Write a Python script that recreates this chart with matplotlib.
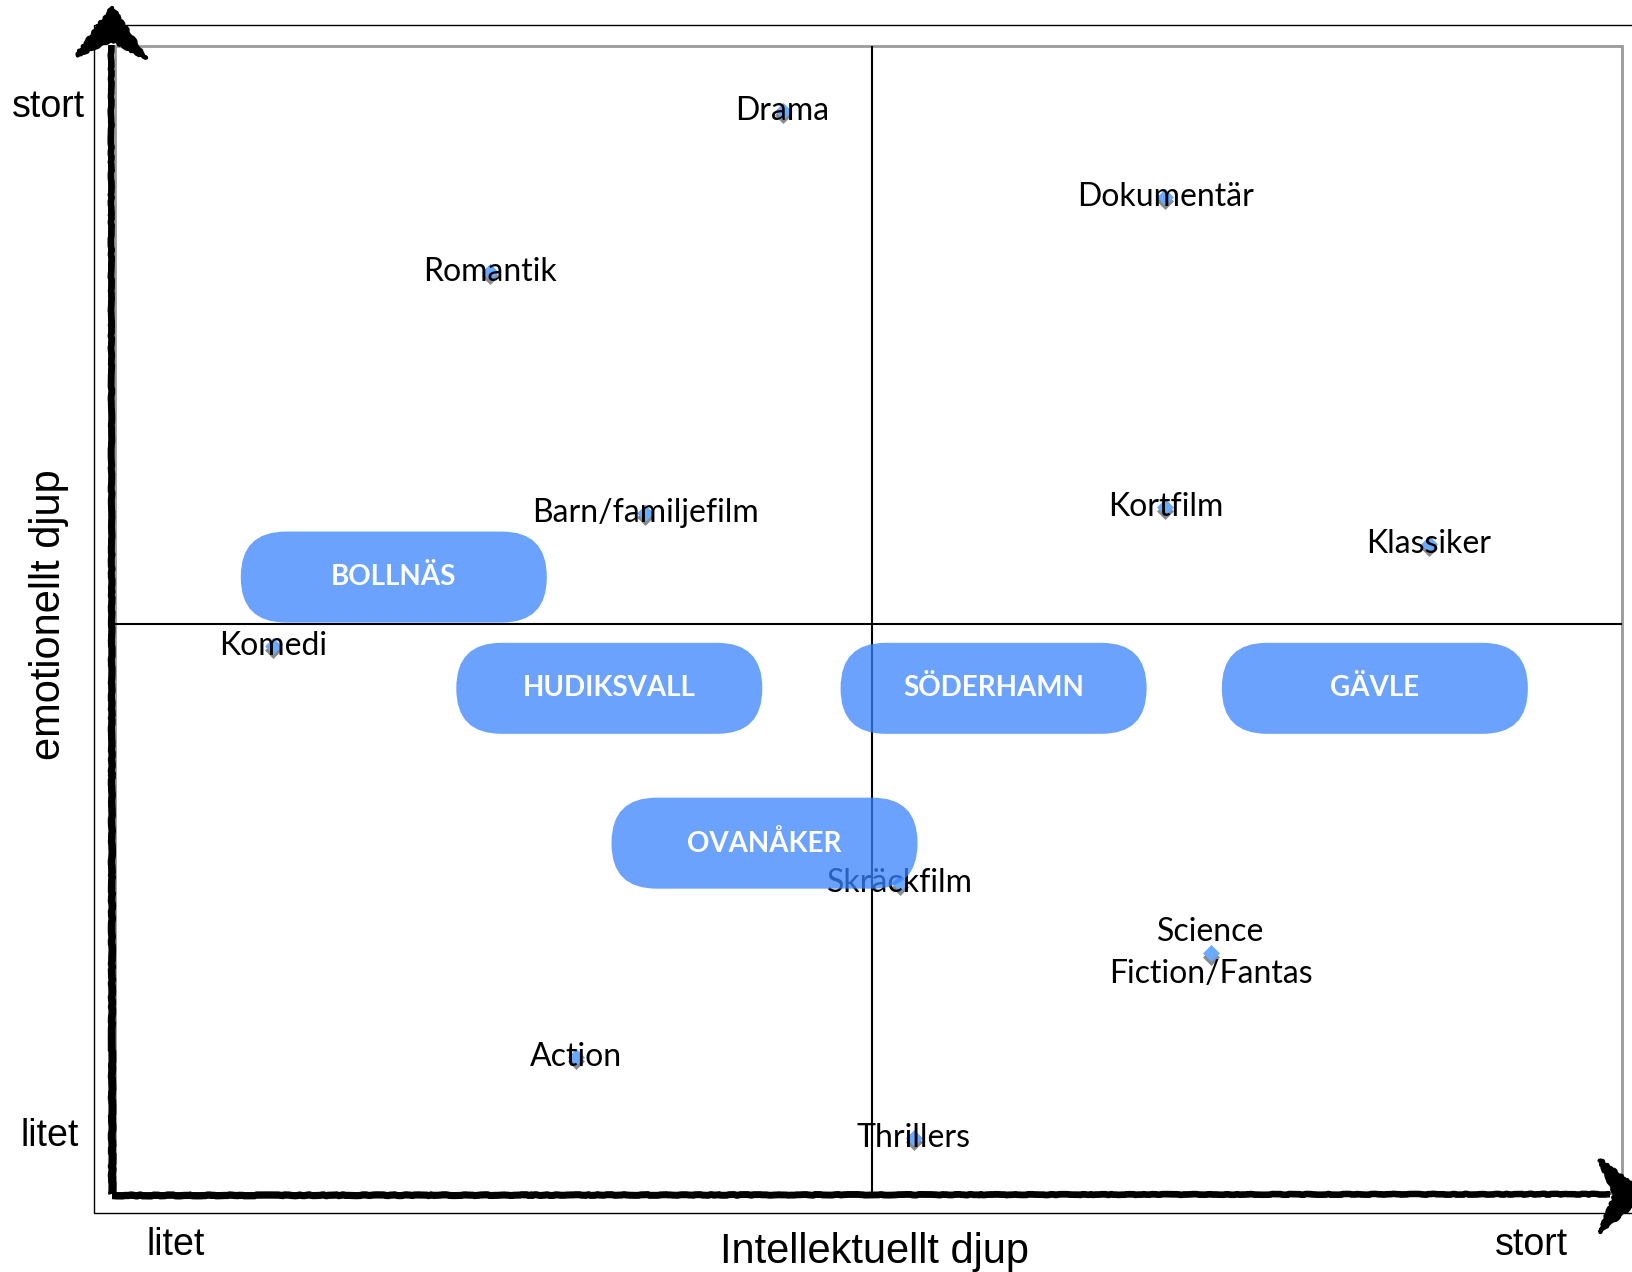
import matplotlib
matplotlib.use("Agg")
import matplotlib.pyplot as plt
import matplotlib.transforms as mtransforms
from matplotlib.patches import FancyBboxPatch, Polygon, Rectangle

# genres placed by intellectual depth (x) and emotional depth (y), 0..10
genres = ["Drama", "Dokumentär", "Romantik", "Barn/familjefilm", "Kortfilm",
          "Klassiker", "Komedi", "Skräckfilm", "Science\nFiction/Fantas",
          "Action", "Thrillers"]
genre_x = [4.43, 6.97, 2.49, 3.52, 6.97, 8.72, 1.05, 5.21, 7.27, 3.06, 5.30]
genre_y = [9.43, 8.68, 8.03, 5.93, 5.98, 5.66, 4.77, 2.70, 2.09, 1.19, 0.48]

# municipalities
regions = ["BOLLNÄS", "HUDIKSVALL", "SÖDERHAMN", "GÄVLE", "OVANÅKER"]
region_x = [1.85, 3.28, 5.83, 8.36, 4.31]
region_y = [5.37, 4.40, 4.40, 4.40, 3.05]

W, H = 1633, 1272


def main():
    fig = plt.figure(figsize=(W / 100, H / 100), dpi=100)

    # background axes in pixel units for frame, arrows and axis words
    deco = fig.add_axes([0, 0, 1, 1])
    deco.set_xlim(0, W)
    deco.set_ylim(H, 0)
    deco.axis("off")

    deco.add_patch(Rectangle((94, 25), 1700, 1188, fill=False, ec="black", lw=1))
    deco.add_patch(Rectangle((115, 46), 1507, 1147, fill=False, ec="#999999", lw=2))

    # brushy hand drawn arrows
    strokes = [(0, 4.5), (2.5, 2.5), (-2.5, 2), (1, 1.5), (-1, 1.5)]
    for dx, lw in strokes:
        l, = deco.plot([112 + dx, 111 + dx * 0.6], [1194, 45], color="black", lw=lw,
                       solid_capstyle="butt")
        l.set_sketch_params(scale=0.35, length=90, randomness=40)
        l, = deco.plot([112, 1610], [1195 + dx, 1194 + dx * 0.6], color="black", lw=lw,
                       solid_capstyle="butt")
        l.set_sketch_params(scale=0.35, length=90, randomness=40)
    heads = [[(112, 8), (77, 55), (112, 40), (146, 58)],
             [(1645, 1195), (1600, 1160), (1615, 1195), (1600, 1232)]]
    for pts in heads:
        p = Polygon(pts, closed=True, fc="black", ec="black", lw=3, joinstyle="round")
        p.set_sketch_params(scale=1.0, length=12, randomness=8)
        deco.add_patch(p)

    lab = dict(family=["Liberation Sans", "DejaVu Sans"], color="black")
    deco.text(48, 107, "stort", fontsize=27, ha="center", va="center", **lab)
    deco.text(50, 1136, "litet", fontsize=27, ha="center", va="center", **lab)
    deco.text(176, 1245, "litet", fontsize=27, ha="center", va="center", **lab)
    deco.text(1531, 1245, "stort", fontsize=27, ha="center", va="center", **lab)
    deco.text(875, 1252, "Intellektuellt djup", fontsize=30, ha="center", va="center", **lab)
    deco.text(49, 615, "emotionellt djup", fontsize=30, rotation=90,
              ha="center", va="center", **lab)

    # data axes matching the inner frame
    ax = fig.add_axes([115 / W, (H - 1193) / H, 1507 / W, 1147 / H])
    ax.set_xlim(0, 10)
    ax.set_ylim(0, 10)
    ax.axis("off")
    ax.patch.set_visible(False)

    ax.axvline(5.02, color="black", lw=1.5, zorder=1)
    ax.axhline(4.96, color="black", lw=1.5, zorder=1)

    shadow = mtransforms.offset_copy(ax.transData, fig=fig, x=0, y=-4, units="dots")
    ax.scatter(genre_x, genre_y, marker="D", s=75, color="#8a8a8a", lw=0,
               transform=shadow, zorder=2)
    ax.scatter(genre_x, genre_y, marker="D", s=75, color="#6AAAFF", lw=0, zorder=3)
    for name, x, y in zip(genres, genre_x, genre_y):
        ax.text(x, y, name, fontsize=23, family=["Lato", "DejaVu Sans"],
                ha="center", va="center", linespacing=1.5, zorder=4)

    # pill shaped region boxes
    px_x = 10 / 1507
    px_y = 10 / 1147
    bw, bh = 306 * px_x, 91 * px_y
    for name, x, y in zip(regions, region_x, region_y):
        box = FancyBboxPatch((x - bw / 2, y - bh / 2), bw, bh,
                             boxstyle="round,pad=0,rounding_size=%f" % (45 * px_x),
                             mutation_aspect=px_y / px_x,
                             fc="#3883FE", ec="none", alpha=0.75, zorder=5)
        ax.add_patch(box)
        ax.text(x, y, name, fontsize=20, fontweight="bold", color="white",
                family=["Lato", "DejaVu Sans"], ha="center", va="center", zorder=6)

    fig.savefig("out.png", dpi=100)


if __name__ == "__main__":
    main()
